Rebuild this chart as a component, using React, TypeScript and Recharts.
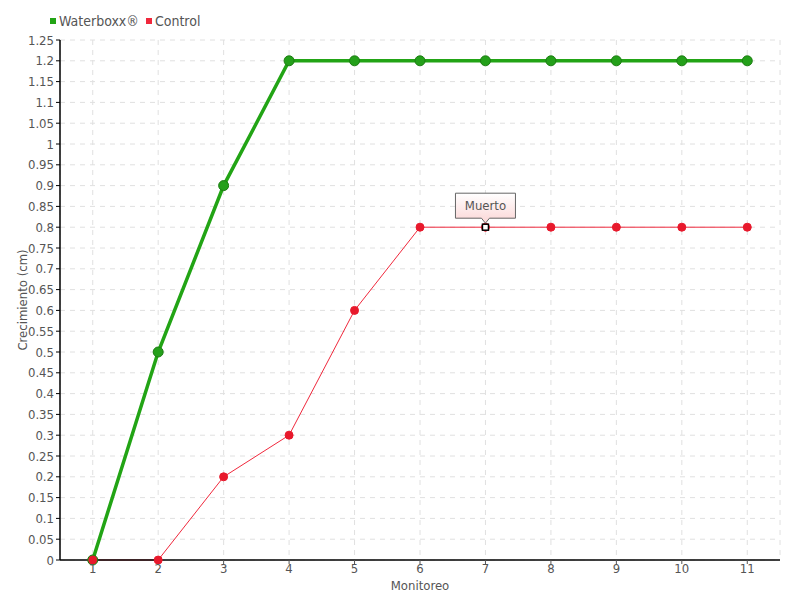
import React from 'react';
import { LineChart, Line, XAxis, YAxis, CartesianGrid, ReferenceDot } from 'recharts';

const monitoreo = ['1', '2', '3', '4', '5', '6', '7', '8', '9', '10', '11'];
const waterboxx = [0, 0.5, 0.9, 1.2, 1.2, 1.2, 1.2, 1.2, 1.2, 1.2, 1.2];
const control = [0, 0, 0.2, 0.3, 0.6, 0.8, 0.8, 0.8, 0.8, 0.8, 0.8];
const yTicks = [
  0, 0.05, 0.1, 0.15, 0.2, 0.25, 0.3, 0.35, 0.4, 0.45, 0.5, 0.55, 0.6, 0.65, 0.7,
  0.75, 0.8, 0.85, 0.9, 0.95, 1, 1.05, 1.1, 1.15, 1.2, 1.25,
];
const muertoAt = { x: '7', y: 0.8, label: 'Muerto' };

const FONT = '"DejaVu Sans Condensed", "DejaVu Sans", sans-serif';
const TEXT = '#555';
const GREEN = '#22a415';
const RED = '#f0283c';

const data = monitoreo.map((m, i) => ({ m, waterboxx: waterboxx[i], control: control[i] }));

const fmt = (v: number) => String(Number(v.toFixed(2)));

const Callout = (props: any) => {
  const { cx, cy } = props;
  const w = 60;
  const h = 25;
  const top = cy - 34;
  return (
    <g>
      <defs>
        <linearGradient id="calloutBg" x1="0" y1="0" x2="0" y2="1">
          <stop offset="0%" stopColor="#ffffff" />
          <stop offset="100%" stopColor="#fbd6d6" />
        </linearGradient>
      </defs>
      <path
        d={`M${cx - w / 2},${top} h${w} v${h} h${-w / 2 + 4} l-4,5 l-4,-5 h${-w / 2 + 4} z`}
        fill="url(#calloutBg)"
        stroke="#666"
        strokeWidth={1}
      />
      <text x={cx} y={top + 17} textAnchor="middle" fontFamily={FONT} fontSize={13} fill={TEXT}>
        {muertoAt.label}
      </text>
      <rect x={cx - 3} y={cy - 3} width={6} height={6} fill="#fff" stroke="#000" strokeWidth={1.5} />
    </g>
  );
};

const YLabel = (props: any) => {
  const { viewBox } = props;
  const x = 22;
  const y = viewBox.y + viewBox.height / 2;
  return (
    <text x={x} y={y} transform={`rotate(-90 ${x} ${y})`} textAnchor="middle" dominantBaseline="central"
      fontFamily={FONT} fontSize={13} fill={TEXT}>
      Crecimiento (cm)
    </text>
  );
};

export default function App() {
  return (
    <div style={{ position: 'absolute', left: 0, top: 0, width: 800, height: 600, background: '#fff', fontFamily: FONT }}>
      {/* legend */}
      <div style={{ position: 'absolute', left: 50, top: 13, display: 'flex', alignItems: 'center', fontSize: 14, color: TEXT, zIndex: 2 }}>
        <span style={{ width: 6, height: 6, background: GREEN, display: 'inline-block', marginRight: 3 }} />
        <span style={{ marginRight: 7 }}>Waterboxx®</span>
        <span style={{ width: 6, height: 6, background: RED, display: 'inline-block', marginRight: 3 }} />
        <span>Control</span>
      </div>
      <LineChart width={800} height={600} data={data} margin={{ top: 40, right: 20, bottom: 8, left: 0 }}>
        <CartesianGrid stroke="#e0e0e0" strokeDasharray="5 5" />
        <XAxis
          dataKey="m"
          scale="band"
          height={32}
          axisLine={{ stroke: '#000', strokeWidth: 1.5 }}
          tickLine={{ stroke: '#555' }}
          tickSize={4}
          tickMargin={0}
          tick={{ fontFamily: FONT, fontSize: 13, fill: TEXT }}
          label={{ value: 'Monitoreo', position: 'insideBottom', offset: 2, fontFamily: FONT, fontSize: 13, fill: TEXT }}
        />
        <YAxis
          width={60}
          domain={[0, 1.25]}
          ticks={yTicks}
          interval={0}
          tickFormatter={fmt}
          axisLine={{ stroke: '#000', strokeWidth: 1.5 }}
          tickLine={{ stroke: '#000' }}
          tickSize={4}
          tickMargin={2}
          tick={{ fontFamily: FONT, fontSize: 13, fill: TEXT }}
          label={<YLabel />}
        />
        <Line
          dataKey="waterboxx"
          stroke={GREEN}
          strokeWidth={3.5}
          dot={{ r: 5, fill: '#24a01a', stroke: '#1c7d12', strokeWidth: 1 }}
          activeDot={false}
          isAnimationActive={false}
        />
        <Line
          dataKey="control"
          stroke={RED}
          strokeWidth={1}
          dot={{ r: 4, fill: '#e8192c', stroke: '#e8192c', strokeWidth: 1 }}
          activeDot={false}
          isAnimationActive={false}
        />
        <ReferenceDot x={muertoAt.x} y={muertoAt.y} shape={<Callout />} />
      </LineChart>
    </div>
  );
}
